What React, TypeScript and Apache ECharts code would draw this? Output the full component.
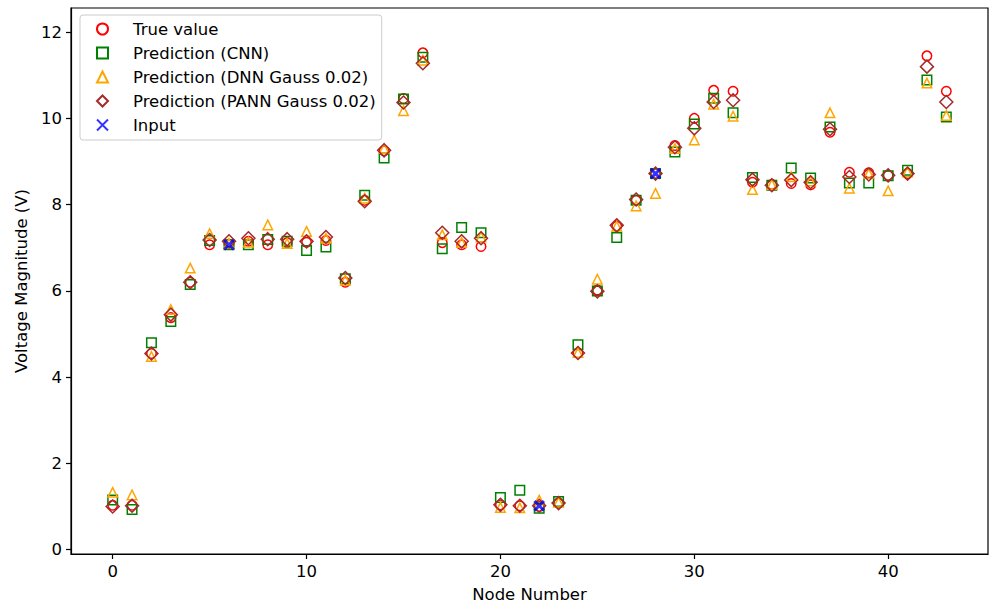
import React, { useEffect, useRef } from "react";
import * as echarts from "echarts";

const nodes: number[] = Array.from({ length: 44 }, (_, i) => i);

const trueValues: number[] = [
  1.03, 1.03, 4.55, 5.38, 6.2, 7.07, 7.08, 7.15, 7.07, 7.12, 7.13, 7.17, 6.2, 8.1, 9.25, 10.46, 11.52, 7.12, 7.07, 7.03,
  1.04, 1.02, 1.0, 1.08, 4.56, 6.02, 7.5, 8.1, 8.72, 9.37, 10.0, 10.65, 10.63, 8.52, 8.47, 8.49, 8.46, 9.68, 8.75, 8.74,
  8.68, 8.72, 11.45, 10.63,
];

const cnnValues: number[] = [
  1.15, 0.93, 4.8, 5.29, 6.15, 7.17, 7.07, 7.07, 7.19, 7.15, 6.94, 7.02, 6.28, 8.22, 9.08, 10.45, 11.42, 6.98, 7.47, 7.35,
  1.21, 1.38, 0.96, 1.12, 4.75, 6.0, 7.24, 8.1, 8.72, 9.22, 9.87, 10.47, 10.13, 8.63, 8.45, 8.85, 8.62, 9.8, 8.5, 8.5,
  8.67, 8.8, 10.89, 10.03,
];

const dnnValues: number[] = [
  1.33, 1.27, 4.48, 5.57, 6.53, 7.33, 7.1, 7.13, 7.53, 7.1, 7.38, 7.22, 6.25, 8.15, 9.3, 10.18, 11.35, 7.3, 7.12, 7.25,
  0.98, 0.97, 1.15, 1.1, 4.57, 6.27, 7.5, 7.97, 8.26, 9.3, 9.5, 10.33, 10.05, 8.35, 8.47, 8.65, 8.55, 10.13, 8.38, 8.72,
  8.32, 8.76, 10.82, 10.07,
];

const pannValues: number[] = [
  1.0, 1.02, 4.55, 5.45, 6.2, 7.18, 7.15, 7.22, 7.2, 7.2, 7.15, 7.25, 6.3, 8.08, 9.26, 10.37, 11.28, 7.35, 7.15, 7.22,
  1.04, 1.02, 1.02, 1.08, 4.56, 5.99, 7.52, 8.12, 8.72, 9.33, 9.77, 10.38, 10.42, 8.58, 8.45, 8.57, 8.52, 9.75, 8.64, 8.7,
  8.68, 8.72, 11.2, 10.38,
];

const inputNodes: number[] = [6, 22, 28];
const inputValues: number[] = [7.07, 1.02, 8.72];

const xTicks: number[] = [0, 10, 20, 30, 40];
const yTicks: number[] = [0, 2, 4, 6, 8, 10, 12];

const seriesNames: string[] = [
  "True value",
  "Prediction (CNN)",
  "Prediction (DNN Gauss 0.02)",
  "Prediction (PANN Gauss 0.02)",
  "Input",
];

const FONT = "DejaVu Sans";
const FS = 16.5;

export default function App() {
  const ref = useRef<HTMLDivElement>(null);

  useEffect(() => {
    if (!ref.current) return;
    const chart = echarts.init(ref.current, undefined, { renderer: "svg" });

    const pair = (xs: number[], ys: number[]) => xs.map((x, i) => [x, ys[i]]);

    const hollow = (color: string, width = 1.5) => ({
      color: "rgba(0,0,0,0)",
      borderColor: color,
      borderWidth: width,
      opacity: 1,
    });

    const option: any = {
      animation: false,
      backgroundColor: "#ffffff",
      textStyle: { fontFamily: FONT },
      grid: {
        left: 71,
        right: 1,
        top: 8,
        bottom: 56,
        containLabel: false,
        show: true,
        borderColor: "#000",
        borderWidth: 1.2,
        backgroundColor: "rgba(0,0,0,0)",
      },
      xAxis: {
        type: "value",
        min: -2.15,
        max: 45.15,
        name: "Node Number",
        nameLocation: "middle",
        nameGap: 32,
        nameTextStyle: { fontSize: FS, color: "#000", fontFamily: FONT },
        axisLine: { show: true, onZero: false, lineStyle: { color: "#000", width: 1.2 } },
        axisTick: { show: true, length: 5, customValues: xTicks, lineStyle: { color: "#000", width: 1.2 } },
        axisLabel: { customValues: xTicks, fontSize: FS, color: "#000", margin: 9, fontFamily: FONT },
        splitLine: { show: false },
      },
      yAxis: {
        type: "value",
        min: -0.1,
        max: 12.56,
        name: "Voltage Magnitude (V)",
        nameLocation: "middle",
        nameGap: 40,
        nameTextStyle: { fontSize: FS, color: "#000", fontFamily: FONT },
        axisLine: { show: true, onZero: false, lineStyle: { color: "#000", width: 1.2 } },
        axisTick: { show: true, length: 5, customValues: yTicks, lineStyle: { color: "#000", width: 1.2 } },
        axisLabel: { customValues: yTicks, fontSize: FS, color: "#000", margin: 9, fontFamily: FONT },
        splitLine: { show: false },
      },
      legend: {
        orient: "vertical",
        left: 80,
        top: 15,
        padding: [5, 6, 6, 16],
        itemWidth: 11,
        itemHeight: 11,
        itemGap: 6,
        backgroundColor: "rgba(255,255,255,0.8)",
        borderColor: "#cccccc",
        borderWidth: 1,
        borderRadius: 3,
        textStyle: { fontSize: FS, color: "#000", fontFamily: FONT, lineHeight: 18, padding: [0, 0, 0, 20] },
        data: seriesNames,
      },
      series: [
        {
          name: seriesNames[0],
          type: "scatter",
          symbol: "circle",
          symbolSize: 9.5,
          itemStyle: hollow("#ff0000"),
          data: pair(nodes, trueValues),
        },
        {
          name: seriesNames[1],
          type: "scatter",
          symbol: "rect",
          symbolSize: 9.5,
          itemStyle: hollow("#008000"),
          data: pair(nodes, cnnValues),
        },
        {
          name: seriesNames[2],
          type: "scatter",
          symbol: "triangle",
          symbolSize: 9.5,
          itemStyle: hollow("#ffa500"),
          data: pair(nodes, dnnValues),
        },
        {
          name: seriesNames[3],
          type: "scatter",
          symbol: "diamond",
          symbolSize: 13,
          itemStyle: hollow("#a52a2a"),
          data: pair(nodes, pannValues),
        },
        {
          name: seriesNames[4],
          type: "scatter",
          symbol: "path://M0,0L10,10M10,0L0,10",
          symbolSize: 9.5,
          itemStyle: { color: "rgba(0,0,0,0)", borderColor: "#0000ff", borderWidth: 3 },
          data: pair(inputNodes, inputValues),
        },
      ],
    };

    chart.setOption(option);
    return () => chart.dispose();
  }, []);

  return (
    <div
      ref={ref}
      style={{ position: "fixed", left: 0, top: 0, width: 989, height: 610, background: "#fff" }}
    />
  );
}
